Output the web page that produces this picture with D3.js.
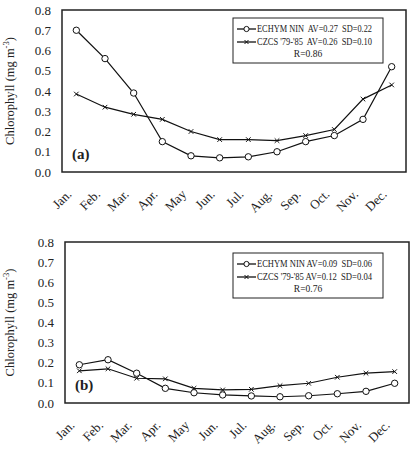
<!DOCTYPE html>
<html>
<head>
<meta charset="utf-8">
<script src="https://cdn.jsdelivr.net/npm/d3@7"></script>
<style>
    body { margin: 0; background: #fff; }
    svg { display: block; }
    text { font-family: "Liberation Serif", "Times New Roman", Times, "DejaVu Serif", serif; fill: #222; }
</style>
</head>
<body>
<div id="chart"></div>
<script>
// Data
const months = ["Jan.", "Feb.", "Mar.", "Apr.", "May", "Jun.", "Jul.", "Aug.", "Sep.", "Oct.", "Nov.", "Dec."];
const yTicks = [0, 0.1, 0.2, 0.3, 0.4, 0.5, 0.6, 0.7, 0.8];

const echymA = [0.70, 0.56, 0.39, 0.15, 0.08, 0.07, 0.075, 0.10, 0.15, 0.18, 0.26, 0.52];
const czcsA = [0.385, 0.32, 0.285, 0.26, 0.20, 0.16, 0.16, 0.155, 0.18, 0.21, 0.36, 0.43];
const legendA = ["ECHYM NIN  AV=0.27  SD=0.22", "CZCS '79-'85  AV=0.26  SD=0.10", "R=0.86"];

const echymB = [0.19, 0.215, 0.148, 0.073, 0.051, 0.04, 0.035, 0.031, 0.036, 0.046, 0.058, 0.098];
const czcsB = [0.16, 0.17, 0.123, 0.12, 0.073, 0.065, 0.068, 0.086, 0.098, 0.128, 0.148, 0.156];
const legendB = ["ECHYM NIN AV=0.09  SD=0.06", "CZCS '79-'85 AV=0.12  SD=0.04", "R=0.76"];

const width = 413, height = 456;

const svg = d3.select("#chart").append("svg")
    .attr("width", width)
    .attr("height", height);

function drawPanel({ box, echym, czcs, legend, label, legendBox }) {
    const g = svg.append("g");

    const x = d3.scalePoint()
        .domain(months)
        .range([box.left, box.right])
        .padding(0.5);

    const y = d3.scaleLinear()
        .domain([0, 0.8])
        .range([box.bottom, box.top]);

    // y tick labels (no tick marks)
    g.selectAll("text.ytick")
        .data(yTicks)
        .join("text")
        .attr("class", "ytick")
        .attr("x", box.left - 11)
        .attr("y", d => y(d))
        .attr("dy", "0.35em")
        .attr("text-anchor", "end")
        .attr("font-size", 13)
        .text(d => d.toFixed(1));

    // x tick labels, rotated
    g.selectAll("text.xtick")
        .data(months)
        .join("text")
        .attr("class", "xtick")
        .attr("text-anchor", "end")
        .attr("font-size", 13)
        .attr("transform", d => `translate(${x(d) - 4},${box.bottom + 23}) rotate(-45)`)
        .text(d => d);

    // y axis title
    const yt = g.append("text")
        .attr("transform", `translate(14,${(box.top + box.bottom) / 2}) rotate(-90)`)
        .attr("text-anchor", "middle")
        .attr("font-size", 12.5);
    yt.append("tspan").text("Chlorophyll (mg m");
    yt.append("tspan").attr("dy", -5).attr("font-size", 8.5).text("-3");
    yt.append("tspan").attr("dy", 5).text(")");

    // lines
    const line = d3.line()
        .x((d, i) => x(months[i]))
        .y(d => y(d));

    g.append("path")
        .datum(czcs)
        .attr("fill", "none")
        .attr("stroke", "#111")
        .attr("stroke-width", 1.2)
        .attr("d", line);

    g.append("path")
        .datum(echym)
        .attr("fill", "none")
        .attr("stroke", "#111")
        .attr("stroke-width", 1.2)
        .attr("d", line);

    // x markers
    g.selectAll("path.xmark")
        .data(czcs)
        .join("path")
        .attr("class", "xmark")
        .attr("transform", (d, i) => `translate(${x(months[i])},${y(d)})`)
        .attr("d", "M-2.3,-2.3L2.3,2.3M-2.3,2.3L2.3,-2.3")
        .attr("stroke", "#111")
        .attr("stroke-width", 1);

    // circle markers
    g.selectAll("circle.omark")
        .data(echym)
        .join("circle")
        .attr("class", "omark")
        .attr("cx", (d, i) => x(months[i]))
        .attr("cy", d => y(d))
        .attr("r", 3.2)
        .attr("fill", "#fff")
        .attr("stroke", "#111")
        .attr("stroke-width", 1);

    // plot frame
    g.append("rect")
        .attr("x", box.left)
        .attr("y", box.top)
        .attr("width", box.right - box.left)
        .attr("height", box.bottom - box.top)
        .attr("fill", "none")
        .attr("stroke", "#222")
        .attr("stroke-width", 1.5);

    // panel label
    g.append("text")
        .attr("x", box.left + 10)
        .attr("y", label.y)
        .attr("font-size", 15)
        .attr("font-weight", "bold")
        .text(label.text);

    // legend
    const lg = g.append("g");
    lg.append("rect")
        .attr("x", legendBox.x)
        .attr("y", legendBox.y)
        .attr("width", legendBox.w)
        .attr("height", legendBox.h)
        .attr("fill", "#fff")
        .attr("stroke", "#222")
        .attr("stroke-width", 1);

    const sx = legendBox.x + 4;
    const rows = [legendBox.y + 11, legendBox.y + 24, legendBox.y + 36];
    [0, 1].forEach(i => {
        lg.append("line")
            .attr("x1", sx).attr("x2", sx + 19)
            .attr("y1", rows[i]).attr("y2", rows[i])
            .attr("stroke", "#111").attr("stroke-width", 1.3);
        if (i === 0) {
            lg.append("circle")
                .attr("cx", sx + 9.5).attr("cy", rows[i]).attr("r", 2.6)
                .attr("fill", "#fff").attr("stroke", "#111");
        } else {
            lg.append("path")
                .attr("transform", `translate(${sx + 9.5},${rows[i]})`)
                .attr("d", "M-2,-2L2,2M-2,2L2,-2")
                .attr("stroke", "#111");
        }
        lg.append("text")
            .attr("x", sx + 20)
            .attr("y", rows[i])
            .attr("dy", "0.35em")
            .attr("font-size", 9.5)
            .attr("textLength", 115)
            .attr("lengthAdjust", "spacingAndGlyphs")
            .style("white-space", "pre")
            .text(legend[i]);
    });
    lg.append("text")
        .attr("x", legendBox.x + legendBox.w / 2)
        .attr("y", rows[2])
        .attr("dy", "0.35em")
        .attr("text-anchor", "middle")
        .attr("font-size", 9.5)
        .text(legend[2]);
}

drawPanel({
    box: { left: 62, right: 406, top: 10, bottom: 172 },
    echym: echymA, czcs: czcsA, legend: legendA,
    label: { text: "(a)", y: 159 },
    legendBox: { x: 233, y: 18, w: 150, h: 45 }
});

drawPanel({
    box: { left: 65, right: 409, top: 242, bottom: 403 },
    echym: echymB, czcs: czcsB, legend: legendB,
    label: { text: "(b)", y: 390 },
    legendBox: { x: 233, y: 253, w: 150, h: 45 }
});
</script>
</body>
</html>
